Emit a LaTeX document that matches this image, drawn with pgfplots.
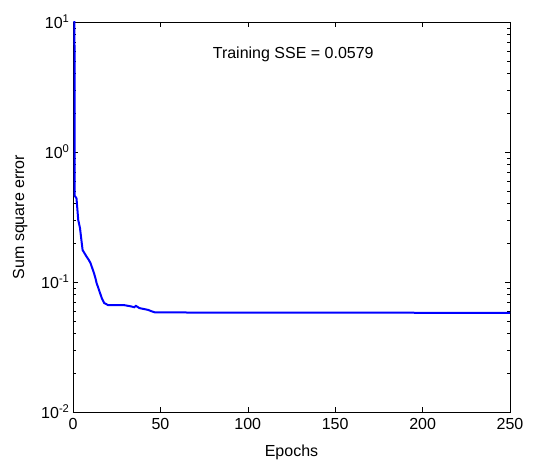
\documentclass[border=0pt]{standalone}
\usepackage{fontspec}
\setmainfont{Liberation Sans}
\usepackage{pgfplots}
\pgfplotsset{compat=1.18}
\begin{document}
\begin{tikzpicture}
\begin{axis}[
  scale only axis,
  width=437pt, height=390pt,
  ymode=log,
  xmin=0, xmax=250, ymin=0.01, ymax=10,
  xtick={0,50,100,150,200,250},
  ytick={0.01,0.1,1,10},
  yticklabels={10\textsuperscript{-2},10\textsuperscript{-1},10\textsuperscript{0},10\textsuperscript{1}},
  /pgf/number format/assume math mode=true,
  tick align=inside,
  xtick pos=both, ytick pos=both,
  major tick length=5pt, minor tick length=3pt,
  tick style={black, line width=0.6pt},
  axis line style={black, line width=0.8pt},
  tick label style={font=\fontsize{16}{18}\selectfont},
  xticklabel style={yshift=-3pt},
  label style={font=\fontsize{16}{18}\selectfont},
  xlabel={Epochs},
  ylabel={Sum square error},
  xlabel style={at={(axis description cs:0.5,-0.103)}, anchor=center},
  ylabel style={at={(axis description cs:-0.121,0.5)}, anchor=center, rotate=0},
  clip=true,
]
\addplot[blue, line width=2pt] coordinates {
(0.8,20) (1,0.46) (2,0.44) (3,0.30) (4,0.26) (5,0.20) (5.5,0.176) (7,0.163)
(8,0.155) (9,0.148) (10,0.14) (11,0.128) (12,0.117) (13,0.105) (13.5,0.098)
(14.5,0.09) (15.5,0.082) (16.5,0.075) (17.8,0.069) (20,0.0665) (29,0.0665)
(33,0.065) (35,0.064) (36,0.0655) (38,0.063) (43,0.061) (45,0.0595) (47,0.0583) (250,0.0579)
};
\node[font=\fontsize{16}{18}\selectfont] at (axis cs:126,5.6) {Training SSE = 0.0579};
\end{axis}
\path ([shift={(-73pt,-50pt)}]current axis.south west) rectangle ([shift={(31pt,22pt)}]current axis.north east);
\end{tikzpicture}
\end{document}
